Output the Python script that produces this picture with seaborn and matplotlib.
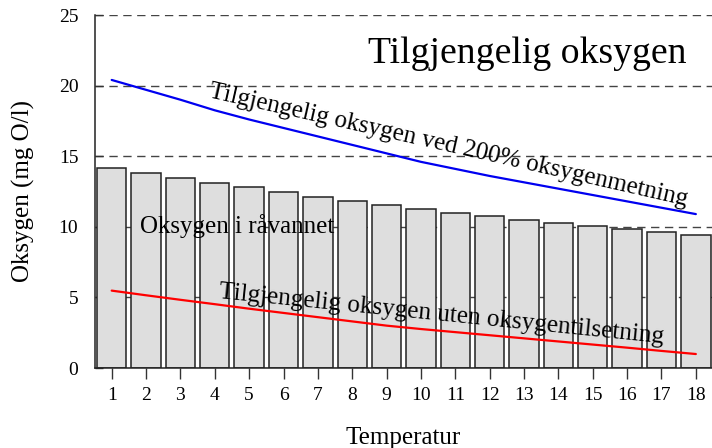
import matplotlib
matplotlib.use("Agg")
import matplotlib.pyplot as plt
import seaborn as sns
import pandas as pd
import numpy as np

# Data
temperatur = list(range(1, 19))
oksygen_ravann = [14.16, 13.80, 13.43, 13.10, 12.79, 12.43, 12.13, 11.82, 11.51,
                  11.25, 10.99, 10.73, 10.50, 10.28, 10.07, 9.83, 9.65, 9.45]
oksygen_200 = [20.4, 19.7, 19.0, 18.25, 17.6, 17.0, 16.4, 15.8, 15.2,
               14.6, 14.1, 13.6, 13.15, 12.7, 12.25, 11.8, 11.35, 10.9]
oksygen_uten = [5.48, 5.15, 4.83, 4.52, 4.2, 3.9, 3.6, 3.3, 3.0,
                2.76, 2.54, 2.32, 2.1, 1.88, 1.66, 1.44, 1.21, 0.99]
yticks = [0, 5, 10, 15, 20, 25]

title = "Tilgjengelig oksygen"
lbl_bars = "Oksygen i råvannet"
lbl_blue = "Tilgjengelig oksygen ved 200% oksygenmetning"
lbl_red = "Tilgjengelig oksygen uten oksygentilsetning"

df = pd.DataFrame({"Temperatur": temperatur, "Raavann": oksygen_ravann,
                   "O200": oksygen_200, "Uten": oksygen_uten})

sns.set_theme(style="white")
plt.rcParams['font.family'] = ['Liberation Serif', 'DejaVu Serif']
plt.rcParams['text.color'] = 'black'
plt.rcParams['axes.labelcolor'] = 'black'
plt.rcParams['xtick.color'] = 'black'
plt.rcParams['ytick.color'] = 'black'

fig = plt.figure(figsize=(7.12, 4.48), dpi=100)
ax = fig.add_axes([95/712, 80/448, 1 - 95/712, (368-15)/448])

sns.barplot(data=df, x="Temperatur", y="Raavann", native_scale=True, width=0.855,
            color="#dedede", saturation=1, edgecolor="#222222", linewidth=1.1,
            ax=ax, zorder=2)
sns.lineplot(data=df, x="Temperatur", y="O200", color="#0000f0", linewidth=1.6,
             ax=ax, zorder=3)
sns.lineplot(data=df, x="Temperatur", y="Uten", color="#ff0000", linewidth=1.6,
             ax=ax, zorder=3)

ax.set_xlim(0.514, 18.47)
ax.set_ylim(0, 25)
ax.set_yticks(yticks)
ax.set_xticks(temperatur)
ax.set_xticklabels([str(t) for t in temperatur])

for y in yticks:
    ax.axhline(y, color="#444444", linewidth=1.0, linestyle=(0, (6, 4)), zorder=0)

for s in ["top", "right"]:
    ax.spines[s].set_visible(False)
for s in ["left", "bottom"]:
    ax.spines[s].set_color("#222222")
    ax.spines[s].set_linewidth(1.1)
    ax.spines[s].set_zorder(4)

ax.tick_params(axis="y", direction="in", length=6, width=1, color="#333333",
               labelsize=14, pad=12, left=True)
ax.tick_params(axis="x", direction="out", length=8, width=1, color="#333333",
               labelsize=14, pad=6, bottom=True)

ax.set_xlabel("Temperatur", fontsize=18, labelpad=16)
ax.set_ylabel("Oksygen (mg O/l)", fontsize=18, labelpad=17)

ax.text(8.46, 21.6, title, fontsize=27.2, ha="left", va="baseline", zorder=5)
ax.text(1.82, 9.54, lbl_bars, fontsize=18, ha="left", va="baseline", zorder=5)
ax.text(3.80, 19.21, lbl_blue, fontsize=18, ha="left", va="baseline",
        rotation=-12.8, rotation_mode="anchor", zorder=5)
ax.text(4.12, 4.94, lbl_red, fontsize=18.2, ha="left", va="baseline",
        rotation=-5.8, rotation_mode="anchor", zorder=5)

fig.savefig("out.png", dpi=100)
